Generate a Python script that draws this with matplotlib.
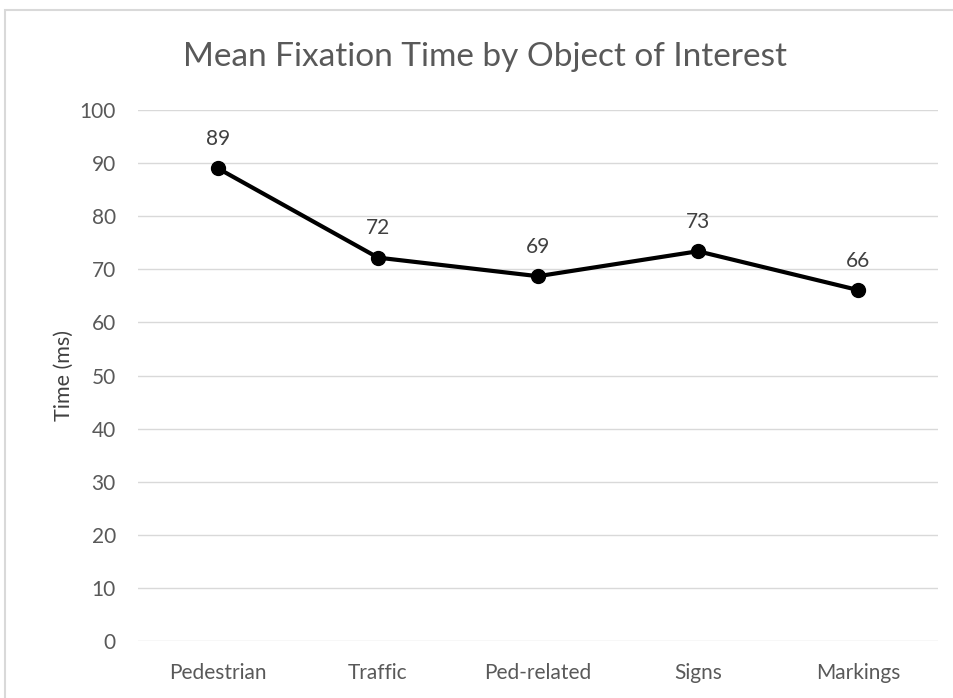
import matplotlib.pyplot as plt
from matplotlib.patches import Rectangle

categories = ['Pedestrian', 'Traffic', 'Ped-related', 'Signs', 'Markings']
mean_time = [89.0, 72.2, 68.7, 73.4, 66.1]
point_labels = ['89', '72', '69', '73', '66']
y_ticks = [0, 10, 20, 30, 40, 50, 60, 70, 80, 90, 100]

plt.rcParams['font.family'] = ['Lato', 'DejaVu Sans']

fig = plt.figure(figsize=(9.54, 6.98), dpi=100)
fig.patches.append(Rectangle((5 / 954, -0.1), 1.1, 1.1 - 10 / 698, transform=fig.transFigure,
                             fill=False, edgecolor='#d9d9d9', linewidth=1.5))

ax = fig.add_axes([138 / 954, 1 - 641 / 698, 800 / 954, 531 / 698])
x = list(range(len(categories)))
ax.plot(x, mean_time, color='black', linewidth=3, marker='o', markersize=10, zorder=3)
for xi, yi, lab in zip(x, mean_time, point_labels):
    ax.annotate(lab, (xi, yi), xytext=(0, 14), textcoords='offset points',
                ha='center', va='bottom', fontsize=15, color='#404040')

ax.set_xlim(-0.5, len(categories) - 0.5)
ax.set_ylim(0, 100)
ax.set_yticks(y_ticks)
ax.set_xticks(x)
ax.set_xticklabels(categories)
ax.grid(axis='y', color='#d9d9d9', linewidth=1)
ax.set_axisbelow(True)
for s in ax.spines.values():
    s.set_visible(False)
ax.tick_params(length=0, labelsize=15, labelcolor='#595959')
ax.tick_params(axis='y', pad=16)
ax.tick_params(axis='x', pad=16)
ax.set_ylabel('Time (ms)', fontsize=15.5, color='#404040', labelpad=4)

fig.text(485 / 954, 1 - 57 / 698, 'Mean Fixation Time by Object of Interest',
         ha='center', va='center', fontsize=24, color='#595959')

fig.savefig('out.png', dpi=100)
